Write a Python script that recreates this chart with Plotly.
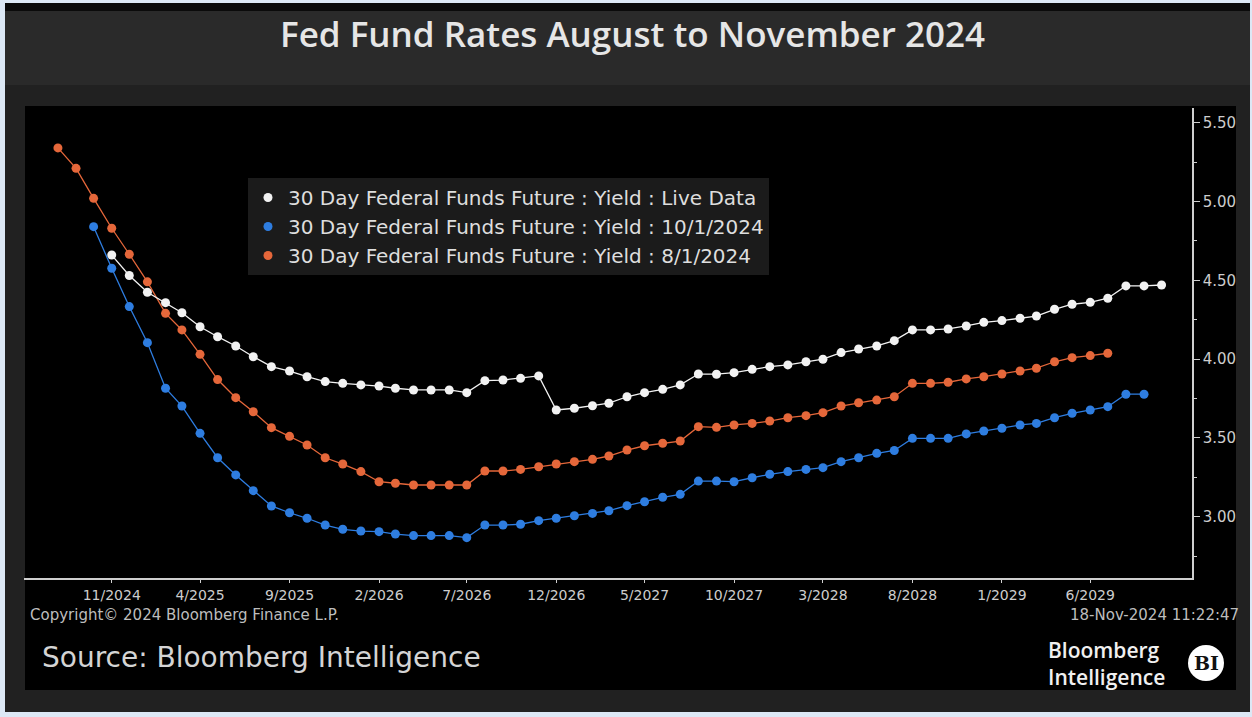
import plotly.graph_objects as go
import pandas as pd

# ---------------- data ----------------
live_start = "2024-11-01"      # 30 Day Fed Funds Future : Yield : Live Data
oct_start = "2024-10-01"       # 30 Day Fed Funds Future : Yield : 10/1/2024
aug_start = "2024-08-01"       # 30 Day Fed Funds Future : Yield : 8/1/2024

live_yield = [4.66, 4.53, 4.424, 4.358, 4.294, 4.205, 4.142, 4.083, 4.015, 3.952,
              3.924, 3.888, 3.857, 3.846, 3.836, 3.829, 3.815, 3.804, 3.804, 3.804,
              3.787, 3.863, 3.867, 3.878, 3.893, 3.677, 3.688, 3.704, 3.72, 3.761,
              3.787, 3.808, 3.836, 3.905, 3.904, 3.914, 3.935, 3.952, 3.963, 3.983,
              3.999, 4.041, 4.064, 4.083, 4.117, 4.185, 4.185, 4.191, 4.21, 4.233,
              4.244, 4.259, 4.273, 4.316, 4.348, 4.36, 4.386, 4.464, 4.464, 4.47]

oct_yield = [4.84, 4.576, 4.333, 4.104, 3.815, 3.702, 3.529, 3.374, 3.265, 3.165,
             3.068, 3.025, 2.99, 2.947, 2.92, 2.909, 2.905, 2.89, 2.88, 2.88,
             2.88, 2.867, 2.947, 2.947, 2.952, 2.975, 2.99, 3.006, 3.021, 3.038,
             3.07, 3.095, 3.123, 3.142, 3.226, 3.226, 3.222, 3.247, 3.269, 3.286,
             3.30, 3.311, 3.349, 3.374, 3.402, 3.42, 3.497, 3.497, 3.497, 3.525,
             3.544, 3.561, 3.582, 3.592, 3.628, 3.656, 3.677, 3.698, 3.777, 3.777]

aug_yield = [5.34, 5.21, 5.02, 4.83, 4.665, 4.49, 4.29, 4.185, 4.03, 3.87,
             3.755, 3.666, 3.565, 3.51, 3.455, 3.374, 3.334, 3.286, 3.222, 3.212,
             3.201, 3.201, 3.201, 3.201, 3.29, 3.29, 3.30, 3.317, 3.334, 3.349,
             3.364, 3.385, 3.423, 3.45, 3.466, 3.48, 3.571, 3.567, 3.582, 3.592,
             3.607, 3.628, 3.641, 3.66, 3.702, 3.723, 3.74, 3.761, 3.846, 3.846,
             3.853, 3.874, 3.888, 3.905, 3.924, 3.942, 3.983, 4.009, 4.022, 4.037]

series_names = ["30 Day Federal Funds Future : Yield : Live Data",
                "30 Day Federal Funds Future : Yield : 10/1/2024",
                "30 Day Federal Funds Future : Yield : 8/1/2024"]

tick_dates = ["2024-11-01", "2025-04-01", "2025-09-01", "2026-02-01", "2026-07-01",
              "2026-12-01", "2027-05-01", "2027-10-01", "2028-03-01", "2028-08-01",
              "2029-01-01", "2029-06-01"]
tick_labels = ["11/2024", "4/2025", "9/2025", "2/2026", "7/2026", "12/2026",
               "5/2027", "10/2027", "3/2028", "8/2028", "1/2029", "6/2029"]

# ---------------- styling ----------------
W, H = 1252, 717
L, R, T, B = 24, 60, 108, 139
WHITE, BLUE, ORANGE = "#f2f2f2", "#2e7de0", "#e5673a"
AXIS_C = "#cfcfcf"
TXT_C = "#cdcdcd"


def px(x):
    return (x - L) / (W - L - R)


def py(y):
    return (H - B - y) / (H - T - B)


def months(start, n):
    return pd.date_range(start, periods=n, freq="MS")


fig = go.Figure()
for name, start, vals, col in [(series_names[2], aug_start, aug_yield, ORANGE),
                               (series_names[1], oct_start, oct_yield, BLUE),
                               (series_names[0], live_start, live_yield, WHITE)]:
    fig.add_trace(go.Scatter(x=months(start, len(vals)), y=vals, mode="lines+markers",
                             line=dict(color=col, width=1.3),
                             marker=dict(color=col, size=9),
                             showlegend=False, name=name))

# legend entries (dot only)
for name, col in zip(series_names, [WHITE, BLUE, ORANGE]):
    fig.add_trace(go.Scatter(x=[None], y=[None], mode="markers",
                             marker=dict(color=col, size=9), name=name))

shapes = [
    dict(type="rect", xref="paper", yref="paper", x0=px(5), x1=px(1250), y0=py(712), y1=py(3),
         fillcolor="#212121", line=dict(width=0), layer="below"),
    dict(type="rect", xref="paper", yref="paper", x0=px(5), x1=px(1250), y0=py(11), y1=py(3),
         fillcolor="#0a0a0a", line=dict(width=0), layer="below"),
    dict(type="rect", xref="paper", yref="paper", x0=px(5), x1=px(1250), y0=py(85), y1=py(11),
         fillcolor="#2a2a2a", line=dict(width=0), layer="below"),
    dict(type="rect", xref="paper", yref="paper", x0=px(25), x1=px(1236), y0=py(690), y1=py(106),
         fillcolor="#000000", line=dict(width=0), layer="below"),
    dict(type="circle", xref="paper", yref="paper", x0=px(1188), x1=px(1224), y0=py(681), y1=py(645),
         fillcolor="#ffffff", line=dict(width=0), layer="above"),
]

annotations = [
    dict(text="Fed Fund Rates August to November 2024", x=px(632), y=py(33),
         font=dict(family="Open Sans", size=35, color="#e6e6e6", weight=600)),
    dict(text="Copyright© 2024 Bloomberg Finance L.P.", x=px(28), y=py(615), xanchor="left",
         font=dict(family="DejaVu Sans", size=15, color="#bdbdbd")),
    dict(text="18-Nov-2024 11:22:47", x=px(1241), y=py(615), xanchor="right",
         font=dict(family="DejaVu Sans", size=15, color="#bdbdbd")),
    dict(text="Source: Bloomberg Intelligence", x=px(40), y=py(657), xanchor="left",
         font=dict(family="DejaVu Sans", size=28, color="#d4d4d4")),
    dict(text="Bloomberg", x=px(1046), y=py(650), xanchor="left",
         font=dict(family="Open Sans", size=21, color="#f0f0f0", weight=600)),
    dict(text="Intelligence", x=px(1046), y=py(677), xanchor="left",
         font=dict(family="Open Sans", size=21, color="#f0f0f0", weight=600)),
    dict(text="BI", x=px(1206), y=py(663),
         font=dict(family="DejaVu Serif", size=19, color="#111111", weight="bold")),
]
for a in annotations:
    a.update(xref="paper", yref="paper", showarrow=False,
             xanchor=a.get("xanchor", "center"), yanchor="middle")

fig.update_layout(
    width=W, height=H,
    margin=dict(l=L, r=R, t=T, b=B, autoexpand=False),
    paper_bgcolor="#dce8f5", plot_bgcolor="#000000",
    shapes=shapes, annotations=annotations,
    showlegend=True,
    legend=dict(x=px(248), y=py(178), xanchor="left", yanchor="top",
                bgcolor="#1b1b1b", borderwidth=0, tracegroupgap=0,
                font=dict(family="DejaVu Sans", size=20, color="#dedede")),
    xaxis=dict(type="date", range=["2024-06-04", "2029-11-22"],
               tickvals=tick_dates, ticktext=tick_labels,
               showgrid=False, zeroline=False,
               showline=True, linecolor=AXIS_C, linewidth=1.5,
               ticks="outside", ticklen=3, tickcolor=AXIS_C,
               tickfont=dict(family="DejaVu Sans", size=14, color=TXT_C)),
    yaxis=dict(side="right", range=[2.611, 5.593], dtick=0.5, tick0=3.0,
               tickformat=".2f", showgrid=False, zeroline=False,
               showline=True, linecolor=AXIS_C, linewidth=1.5,
               ticks="outside", ticklen=6, tickcolor=AXIS_C,
               minor=dict(dtick=0.25, tick0=3.0, ticks="outside", ticklen=3, tickcolor=AXIS_C),
               tickfont=dict(family="DejaVu Sans", size=15, color=TXT_C)),
)

fig.write_html("out.html")
